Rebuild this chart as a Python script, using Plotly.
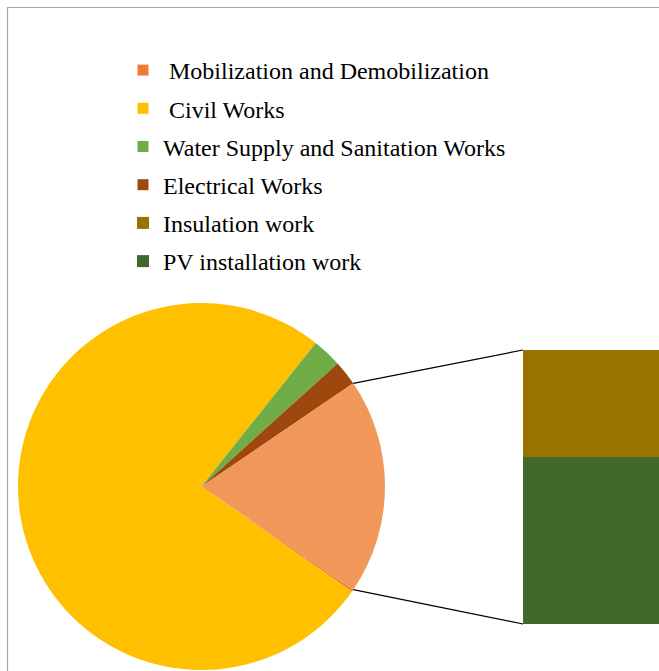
import math
import plotly.graph_objects as go

# ---------------- data ----------------
pie_labels = ["Mobilization and Demobilization", "Civil Works",
              "Water Supply and Sanitation Works", "Electrical Works"]
pie_values = [0.2, 76.0, 2.6, 2.2]
pie_colors = ["#ED7D31", "#FFC000", "#70AD47", "#9E480E"]

bar_labels = ["Insulation work", "PV installation work"]
bar_values = [7.4, 11.6]
bar_colors = ["#997300", "#43682B"]
other_label = "Other"
other_color = "#F1975A"

legend_names = ["\u00a0Mobilization and Demobilization", "\u00a0Civil Works",
                "Water Supply and Sanitation Works", "Electrical Works"]

# ---------------- layout geometry ----------------
W, H = 659, 671
pie_px = (18, 303, 385, 670)       # left, top, right, bottom (px)
bar_px = (523, 350, 659, 624)

other_total = sum(bar_values)
all_vals = pie_values + [other_total]
total = sum(all_vals)
other_deg = 360.0 * other_total / total
rotation = 90.0 + other_deg / 2.0   # "other" slice centred at 3 o'clock

fig = go.Figure()

fig.add_trace(go.Pie(
    labels=pie_labels + [other_label],
    values=all_vals,
    marker=dict(colors=pie_colors + [other_color], line=dict(width=0)),
    sort=False, direction="clockwise", rotation=rotation,
    textinfo="none", hoverinfo="label+value", showlegend=False,
    domain=dict(x=[pie_px[0] / W, pie_px[2] / W],
                y=[1 - pie_px[3] / H, 1 - pie_px[1] / H]),
))

# legend entries for the pie categories
for i, (nm, col) in enumerate(zip(legend_names, pie_colors)):
    fig.add_trace(go.Scatter(
        x=[None], y=[None], mode="markers", name=nm,
        marker=dict(symbol="square", size=11, color=col),
        legendgroup=f"g{i}", legendrank=i + 1,
    ))

# stacked bar (bottom first)
for j in [1, 0]:
    fig.add_trace(go.Bar(
        x=[0], y=[bar_values[j]], name=bar_labels[j],
        marker=dict(color=bar_colors[j], line=dict(width=0)),
        legendgroup=f"b{j}", legendrank=5 + j,
        hoverinfo="name+y",
    ))

# connector lines from pie edge to the bar
cx = (pie_px[0] + pie_px[2]) / 2
cy = (pie_px[1] + pie_px[3]) / 2
r = (pie_px[2] - pie_px[0]) / 2
a_top = math.radians(other_deg / 2)
a_bot = -a_top
p_top = (cx + r * math.cos(a_top), cy - r * math.sin(a_top))
p_bot = (cx + r * math.cos(a_bot), cy - r * math.sin(a_bot))
shapes = [
    dict(type="rect", xref="paper", yref="paper",
         x0=7.5 / W, x1=1.05, y0=-0.05, y1=1 - 7.5 / H,
         line=dict(color="#A6A6A6", width=1.2), layer="below"),
    dict(type="line", xref="paper", yref="paper",
         x0=p_top[0] / W, y0=1 - p_top[1] / H,
         x1=bar_px[0] / W, y1=1 - bar_px[1] / H,
         line=dict(color="black", width=1.2)),
    dict(type="line", xref="paper", yref="paper",
         x0=p_bot[0] / W, y0=1 - p_bot[1] / H,
         x1=bar_px[0] / W, y1=1 - bar_px[3] / H,
         line=dict(color="black", width=1.2)),
]

fig.update_layout(
    width=W, height=H, margin=dict(l=0, r=0, t=0, b=0),
    paper_bgcolor="white", plot_bgcolor="white",
    barmode="stack", bargap=0,
    xaxis=dict(domain=[bar_px[0] / W, 1], range=[-0.5, 0.5], visible=False,
               fixedrange=True),
    yaxis=dict(domain=[1 - bar_px[3] / H, 1 - bar_px[1] / H],
               range=[0, other_total], visible=False, fixedrange=True),
    shapes=shapes,
    showlegend=True,
    legend=dict(x=123 / W, y=1 - 48 / H, xanchor="left", yanchor="top",
                traceorder="grouped", tracegroupgap=4,
                font=dict(family="Liberation Serif", size=24, color="black"),
                bgcolor="rgba(0,0,0,0)"),
)

fig.write_html("out.html")
